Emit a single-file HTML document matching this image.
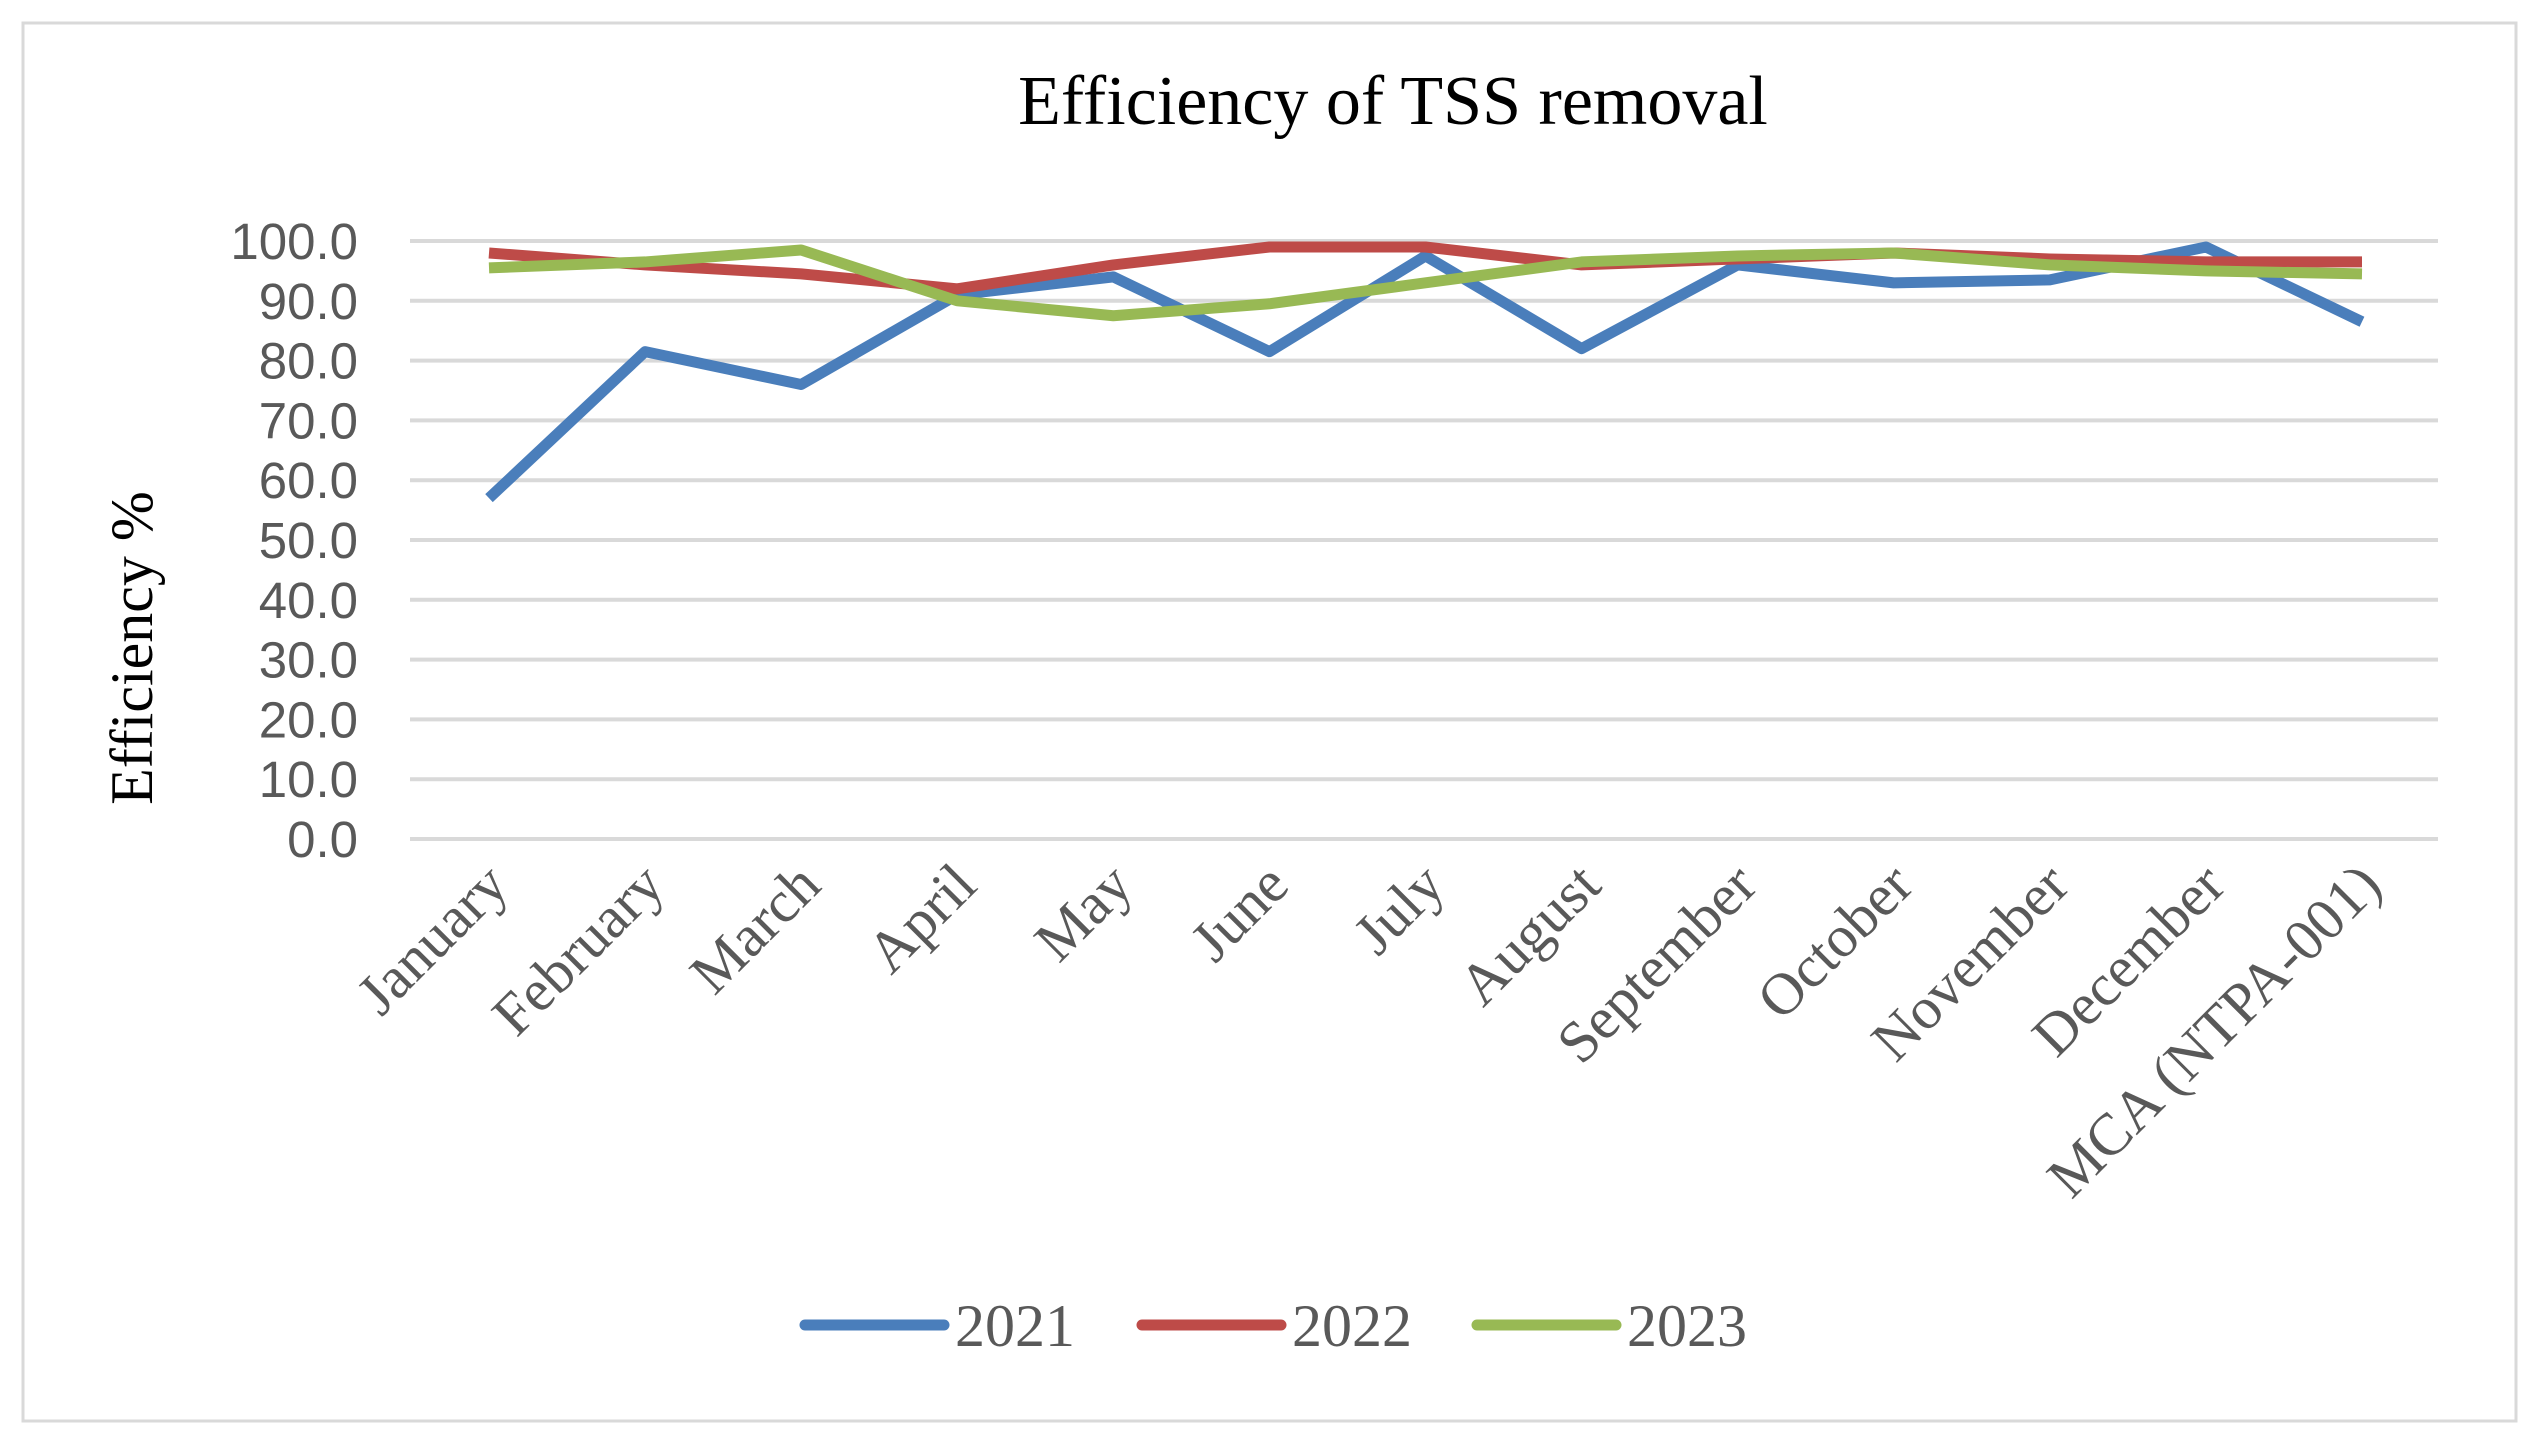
<!DOCTYPE html>
<html><head><meta charset="utf-8"><style>
html,body{margin:0;padding:0;background:#fff;}
svg{display:block;}
</style></head><body>
<svg width="2540" height="1443" viewBox="0 0 2540 1443" xmlns="http://www.w3.org/2000/svg">
<rect x="23" y="23" width="2493" height="1398" fill="#fff" stroke="#d9d9d9" stroke-width="3"/>
<text x="1393" y="124" text-anchor="middle" font-family="Liberation Serif, serif" font-size="70" fill="#000">Efficiency of TSS removal</text>
<text transform="translate(152,648) rotate(-90)" text-anchor="middle" font-family="Liberation Serif, serif" font-size="60" fill="#000">Efficiency %</text>
<g id="grid"></g><g id="yt"></g><g id="xt"></g><g id="series"></g>
<g id="legend"></g>
</svg>
<script>
const categories=["January","February","March","April","May","June","July","August","September","October","November","December","MCA (NTPA-001)"];
const s2021=[57,81.5,76,91,94,81.5,97.5,82,96,93,93.5,99,86.5];
const s2022=[98,96,94.5,92,96,99,99,96,97,98,97,96.5,96.5];
const s2023=[95.5,96.5,98.5,90,87.5,89.5,93,96.5,97.5,98,96,95,94.5];
const yTicks=[0,10,20,30,40,50,60,70,80,90,100];
const seriesNames=["2021","2022","2023"];
const colors=["#4a7ebb","#be4b48","#98b954"];
const NS="http://www.w3.org/2000/svg";
const L=410,R=2438,T=241,B=839;
const y=v=>B-(v/100)*(B-T);
const x=i=>489+i*((2362-489)/12);
function mk(t,a,p){const e=document.createElementNS(NS,t);for(const k in a)e.setAttribute(k,a[k]);p.appendChild(e);return e;}
const grid=document.getElementById('grid'),yt=document.getElementById('yt'),xt=document.getElementById('xt'),ser=document.getElementById('series'),leg=document.getElementById('legend');
yTicks.forEach(v=>{
 const l=mk('line',{x1:L,x2:R,y1:y(v),y2:y(v),stroke:'#d9d9d9','stroke-width':4},grid);
 
 
 const t=mk('text',{x:358,y:y(v)+18,'text-anchor':'end','font-family':'Liberation Sans, sans-serif','font-size':51,fill:'#595959'},yt);
 t.textContent=v.toFixed(1);
 
 
});
categories.forEach((c,i)=>{
 const t=mk('text',{transform:`translate(${x(i)+22},${888}) rotate(-45)`,'text-anchor':'end','font-family':'Liberation Serif, serif','font-size':59,fill:'#595959'},xt);
 t.textContent=c;
 
 
});
[s2021,s2022,s2023].forEach((s,k)=>{
 const p=mk('polyline',{points:s.map((v,i)=>x(i)+','+y(v)).join(' '),fill:'none',stroke:colors[k],'stroke-width':11,'stroke-linejoin':'round'},ser);
 
 
});
const lx=[805,1142,1477];
seriesNames.forEach((n,k)=>{
 const l=mk('line',{x1:lx[k],x2:lx[k]+139,y1:1325,y2:1325,stroke:colors[k],'stroke-width':11,'stroke-linecap':'round'},leg);
 
 
 const t=mk('text',{x:lx[k]+150,y:1346,'font-family':'Liberation Serif, serif','font-size':60,fill:'#595959'},leg);
 t.textContent=n;
 
 
});
</script>
</body></html>
